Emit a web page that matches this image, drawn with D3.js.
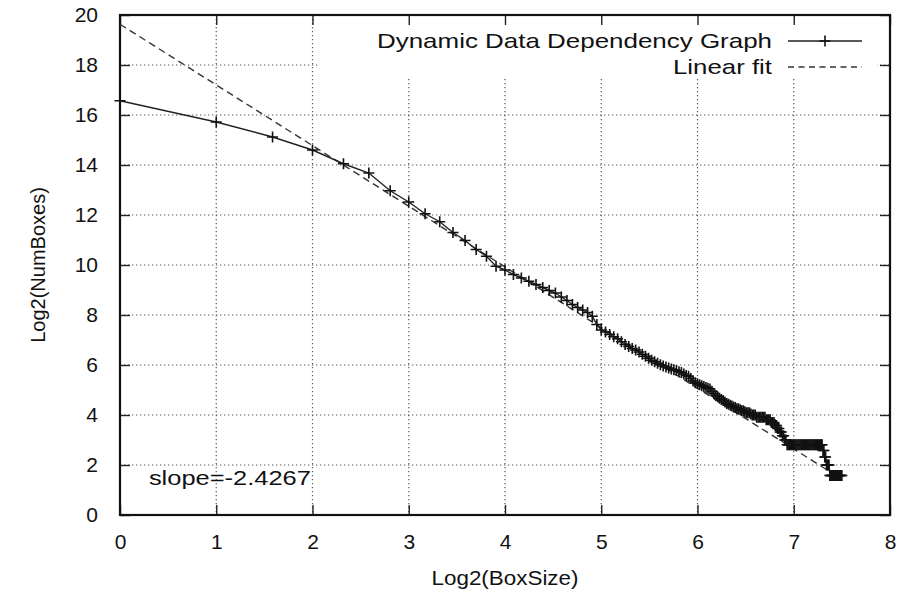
<!DOCTYPE html>
<html>
<head>
<meta charset="utf-8">
<script src="https://cdn.jsdelivr.net/npm/d3@7/dist/d3.min.js"></script>
<style>
  html, body { margin: 0; padding: 0; background: #fff; }
  svg { display: block; }
  text { font-family: "Liberation Sans", Arial, Helvetica, sans-serif; fill: #111; }
</style>
</head>
<body>
<svg id="chart" width="917" height="597"></svg>
<script>
// Box-counting measurement: box side length and number of occupied boxes (log2)
const boxSizes = [
  1, 2, 3, 4, 5, 6, 7, 8, 9, 10, 11, 12, 13, 14, 15, 16, 17, 18, 19, 20,
  21, 22, 23, 24, 25, 26, 27, 28, 29, 30, 31, 32, 33, 34, 35, 36, 37, 38, 39, 40,
  41, 42, 43, 44, 45, 46, 47, 48, 49, 50, 51, 52, 53, 54, 55, 56, 57, 58, 59, 60,
  61, 62, 63, 64, 65, 66, 67, 68, 69, 70, 71, 72, 73, 74, 75, 76, 77, 78, 79, 80,
  81, 82, 83, 84, 85, 86, 87, 88, 89, 90, 91, 92, 93, 94, 95, 96, 97, 98, 99, 100,
  101, 102, 103, 104, 105, 106, 107, 108, 109, 110, 111, 112, 113, 114, 115, 116, 117, 118, 119, 120,
  121, 122, 123, 124, 125, 126, 127, 128, 129, 130, 131, 132, 133, 134, 135, 136, 137, 138, 139, 140,
  141, 142, 143, 144, 145, 146, 147, 148, 149, 150, 151, 152, 153, 154, 155, 156, 157, 158, 159, 160,
  161, 162, 163, 164, 165, 166, 167, 168, 169, 170, 171, 172, 173, 174, 175, 176, 177, 178, 179, 180,
  181
];
const log2NumBoxes = [
  16.57, 15.72, 15.12, 14.60, 14.05, 13.68, 12.97, 12.52, 12.05, 11.73,
  11.30, 10.98, 10.62, 10.35, 9.95, 9.80, 9.62, 9.48, 9.35, 9.22,
  9.10, 8.98, 8.88, 8.72, 8.58, 8.42, 8.30, 8.20, 8.10, 7.95,
  7.62, 7.40, 7.32, 7.22, 7.13, 7.05, 6.93, 6.82, 6.74, 6.66,
  6.60, 6.52, 6.43, 6.35, 6.27, 6.19, 6.13, 6.07, 6.01, 5.96,
  5.92, 5.88, 5.84, 5.81, 5.78, 5.73, 5.70, 5.64, 5.58, 5.55,
  5.46, 5.36, 5.29, 5.25, 5.21, 5.17, 5.14, 5.10, 5.07, 5.04,
  4.95, 4.86, 4.78, 4.73, 4.67, 4.62, 4.58, 4.52, 4.46, 4.43,
  4.39, 4.36, 4.32, 4.30, 4.25, 4.25, 4.21, 4.17, 4.17, 4.13,
  4.09, 4.09, 4.09, 4.04, 4.00, 4.00, 4.00, 3.91, 3.91, 3.91,
  3.91, 3.91, 3.91, 3.91, 3.81, 3.81, 3.81, 3.81, 3.70, 3.70,
  3.70, 3.58, 3.58, 3.46, 3.46, 3.32, 3.32, 3.17, 3.17, 3.00,
  3.00, 2.81, 2.81, 2.81, 2.81, 2.81, 2.81, 2.81, 2.81, 2.81,
  2.81, 2.81, 2.81, 2.81, 2.81, 2.81, 2.81, 2.81, 2.81, 2.81,
  2.81, 2.81, 2.81, 2.81, 2.81, 2.81, 2.81, 2.81, 2.81, 2.81,
  2.81, 2.81, 2.81, 2.81, 2.81, 2.81, 2.81, 2.58, 2.58, 2.32,
  2.32, 2.00, 2.00, 2.00, 2.00, 1.58, 1.58, 1.58, 1.58, 1.58,
  1.58, 1.58, 1.58, 1.58, 1.58, 1.58, 1.58, 1.58, 1.58, 1.58,
  1.58
];

// Least-squares fit of the log-log curve
const fitSlope = -2.4267;
const fitIntercept = 19.63;
const fitRange = [0, 7.45];

const xTicks = [0, 1, 2, 3, 4, 5, 6, 7, 8];
const yTicks = [0, 2, 4, 6, 8, 10, 12, 14, 16, 18, 20];
const seriesNames = ["Dynamic Data Dependency Graph", "Linear fit"];
const xTitle = "Log2(BoxSize)";
const yTitle = "Log2(NumBoxes)";
const slopeLabel = "slope=" + fitSlope;

const svg = d3.select("#chart");
const plot = { left: 120, right: 890, top: 15, bottom: 515 };

const x = d3.scaleLinear().domain([0, 8]).range([plot.left, plot.right]);
const y = d3.scaleLinear().domain([0, 20]).range([plot.bottom, plot.top]);

// Dotted grid
const grid = svg.append("g").attr("stroke", "#555").attr("stroke-width", 1.2)
  .attr("stroke-dasharray", "1.3,2.7");
grid.selectAll("line.gx").data(xTicks.slice(1, -1)).join("line")
  .attr("x1", d => x(d)).attr("x2", d => x(d))
  .attr("y1", plot.top).attr("y2", plot.bottom);
grid.selectAll("line.gy").data(yTicks.slice(1, -1)).join("line")
  .attr("x1", plot.left).attr("x2", plot.right)
  .attr("y1", d => y(d)).attr("y2", d => y(d));

// Key area sits on an opaque background
svg.append("rect").attr("x", 320).attr("y", plot.top + 1)
  .attr("width", 557).attr("height", 62).attr("fill", "#fff");

// Axes with inward ticks on all four sides
const tickLen = 10;
const axisBottom = d3.axisBottom(x).tickValues(xTicks).tickSize(-tickLen).tickPadding(tickLen + 9).tickFormat(d3.format("d"));
const axisTop = d3.axisTop(x).tickValues(xTicks).tickSize(-tickLen).tickFormat("");
const axisLeft = d3.axisLeft(y).tickValues(yTicks).tickSize(-tickLen).tickPadding(tickLen + 12).tickFormat(d3.format("d"));
const axisRight = d3.axisRight(y).tickValues(yTicks).tickSize(-tickLen).tickFormat("");

function styleAxis(g) {
  g.select(".domain").remove();
  g.selectAll(".tick line").attr("stroke", "#222").attr("stroke-width", 1.4);
  g.selectAll(".tick text").attr("font-size", 21).attr("fill", "#111")
    .attr("font-family", "Liberation Sans, Arial, sans-serif");
}
svg.append("g").attr("transform", `translate(0,${plot.bottom})`).call(axisBottom).call(styleAxis);
svg.append("g").attr("transform", `translate(0,${plot.top})`).call(axisTop).call(styleAxis);
svg.append("g").attr("transform", `translate(${plot.left},0)`).call(axisLeft).call(styleAxis);
svg.append("g").attr("transform", `translate(${plot.right},0)`).call(axisRight).call(styleAxis);

// Frame
svg.append("rect")
  .attr("x", plot.left).attr("y", plot.top)
  .attr("width", plot.right - plot.left).attr("height", plot.bottom - plot.top)
  .attr("fill", "none").attr("stroke", "#111").attr("stroke-width", 2.2);

// Linear fit (dashed)
const fitPts = fitRange.map(v => [v, fitIntercept + fitSlope * v]);
svg.append("path")
  .datum(fitPts)
  .attr("d", d3.line().x(d => x(d[0])).y(d => y(d[1])))
  .attr("fill", "none").attr("stroke", "#333").attr("stroke-width", 1.4)
  .attr("stroke-dasharray", "7,4.5");

// Measured curve with "+" markers
const pts = boxSizes.map((b, i) => [Math.log2(b), log2NumBoxes[i]]);
svg.append("path")
  .datum(pts)
  .attr("d", d3.line().x(d => x(d[0])).y(d => y(d[1])))
  .attr("fill", "none").attr("stroke", "#222").attr("stroke-width", 1.4);

const m = 5.5;
svg.append("g").selectAll("path").data(pts).join("path")
  .attr("d", d => {
    const px = x(d[0]), py = y(d[1]);
    return `M${px - m},${py}H${px + m}M${px},${py - m}V${py + m}`;
  })
  .attr("stroke", "#111").attr("stroke-width", 1.6).attr("fill", "none");

// Key
const keyTextX = 772, keyLineX0 = 788, keyLineX1 = 862;
const keyRows = [41, 67];
svg.append("text").attr("x", keyTextX).attr("y", keyRows[0]).attr("dy", "0.35em")
  .attr("text-anchor", "end").attr("font-size", 21)
  .attr("textLength", 395).attr("lengthAdjust", "spacingAndGlyphs")
  .text(seriesNames[0]);
svg.append("line").attr("x1", keyLineX0).attr("x2", keyLineX1)
  .attr("y1", keyRows[0]).attr("y2", keyRows[0])
  .attr("stroke", "#222").attr("stroke-width", 1.4);
const kc = (keyLineX0 + keyLineX1) / 2;
svg.append("path")
  .attr("d", `M${kc - m},${keyRows[0]}H${kc + m}M${kc},${keyRows[0] - m}V${keyRows[0] + m}`)
  .attr("stroke", "#111").attr("stroke-width", 1.6);

svg.append("text").attr("x", keyTextX).attr("y", keyRows[1]).attr("dy", "0.35em")
  .attr("text-anchor", "end").attr("font-size", 21)
  .attr("textLength", 99).attr("lengthAdjust", "spacingAndGlyphs")
  .text(seriesNames[1]);
svg.append("line").attr("x1", keyLineX0).attr("x2", keyLineX1)
  .attr("y1", keyRows[1]).attr("y2", keyRows[1])
  .attr("stroke", "#333").attr("stroke-width", 1.4).attr("stroke-dasharray", "6,4.5");

// Slope annotation
svg.append("text").attr("x", x(0.3)).attr("y", y(1.5)).attr("dy", "0.35em")
  .attr("font-size", 21)
  .attr("textLength", 162).attr("lengthAdjust", "spacingAndGlyphs")
  .text(slopeLabel);

// Axis titles
svg.append("text").attr("x", 505).attr("y", 578).attr("dy", "0.35em")
  .attr("text-anchor", "middle").attr("font-size", 21)
  .attr("textLength", 147).attr("lengthAdjust", "spacingAndGlyphs")
  .text(xTitle);
svg.append("text").attr("transform", `translate(38,${(plot.top + plot.bottom) / 2}) rotate(-90)`)
  .attr("dy", "0.35em").attr("text-anchor", "middle").attr("font-size", 20)
  .text(yTitle);
</script>
</body>
</html>
